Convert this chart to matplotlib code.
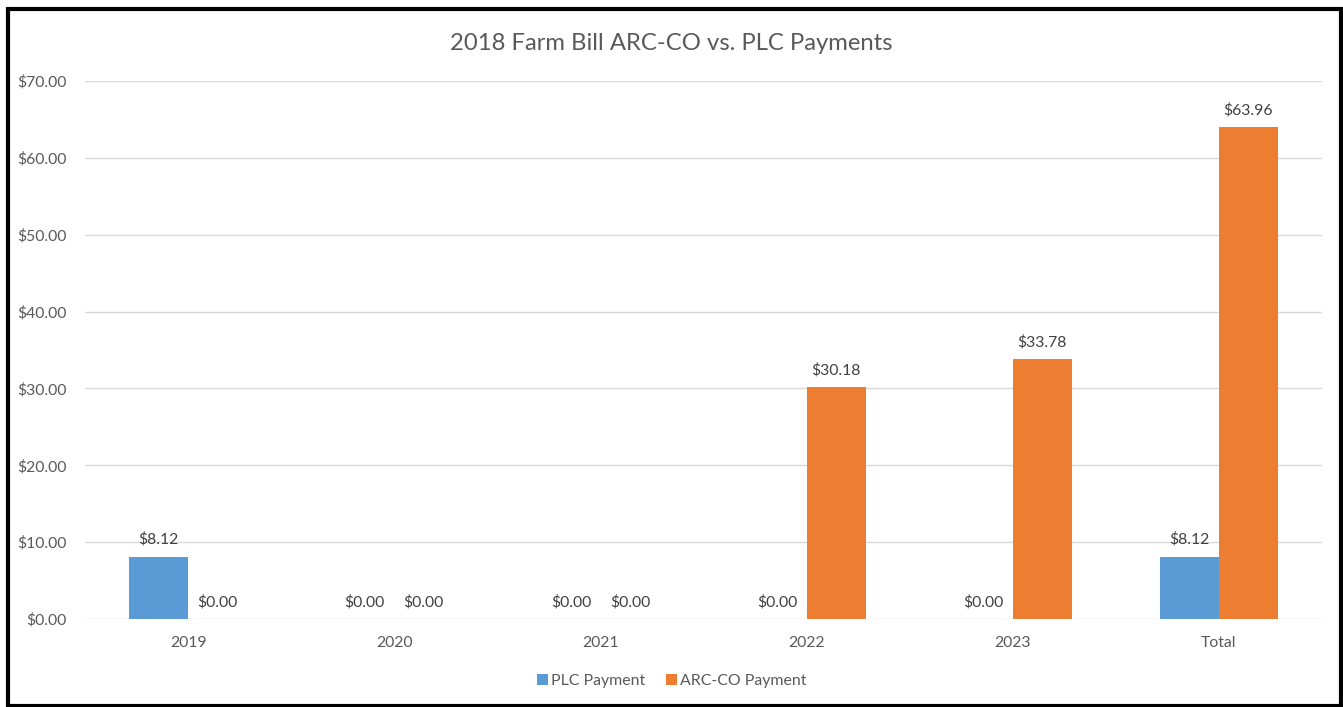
import matplotlib.pyplot as plt
from matplotlib.patches import Rectangle
import numpy as np

categories = ['2019', '2020', '2021', '2022', '2023', 'Total']
plc_payment = [8.12, 0.00, 0.00, 0.00, 0.00, 8.12]
arc_co_payment = [0.00, 0.00, 0.00, 30.18, 33.78, 63.96]

plt.rcParams['font.family'] = ['Lato', 'DejaVu Sans']
text_color = '#595959'
blue = '#5B9BD5'
orange = '#ED7D31'

fig = plt.figure(figsize=(13.43, 7.07), dpi=100)
ax = fig.add_axes([85 / 1343, 1 - 619 / 707, (1322 - 85) / 1343, (619 - 81) / 707])

x = np.arange(len(categories))
w = 0.286
b1 = ax.bar(x - w / 2, plc_payment, w, color=blue, label='PLC Payment', zorder=3)
b2 = ax.bar(x + w / 2, arc_co_payment, w, color=orange, label='ARC-CO Payment', zorder=3)

for bars in (b1, b2):
    for bar in bars:
        h = bar.get_height()
        ax.annotate(f'${h:.2f}', (bar.get_x() + bar.get_width() / 2, h),
                    xytext=(0, 7), textcoords='offset points', ha='center', va='bottom',
                    fontsize=11.3, color='#404040')

ax.set_xlim(-0.5, len(categories) - 0.5)
ax.set_ylim(0, 70)
ax.set_yticks(np.arange(0, 71, 10))
ax.set_yticklabels([f'${v:.2f}' for v in np.arange(0, 71, 10)])
ax.set_xticks(x)
ax.set_xticklabels(categories)
ax.tick_params(axis='both', length=0, colors=text_color, labelsize=11.3)
ax.tick_params(axis='y', pad=13)
ax.tick_params(axis='x', pad=12)
ax.grid(axis='y', color='#D9D9D9', linewidth=1, zorder=0)
for s in ax.spines.values():
    s.set_visible(False)

fig.text(0.5, 1 - 43 / 707, '2018 Farm Bill ARC-CO vs. PLC Payments', ha='center', va='center',
         fontsize=17.2, color=text_color)

fig.legend(handles=[b1, b2], loc='center', bbox_to_anchor=(0.5, 1 - 681 / 707), ncol=2,
           frameon=False, fontsize=11.4, labelcolor=text_color, handlelength=0.7, handleheight=0.7,
           handletextpad=0.2, columnspacing=1.3)

fig.patches.append(Rectangle((7.5 / 1343, 1 / 707), (1340.5 - 7.5) / 1343, (698 - 1) / 707,
                             transform=fig.transFigure, fill=False, edgecolor='black',
                             linewidth=3, zorder=10))

fig.savefig('out.png', dpi=100, facecolor='white')
